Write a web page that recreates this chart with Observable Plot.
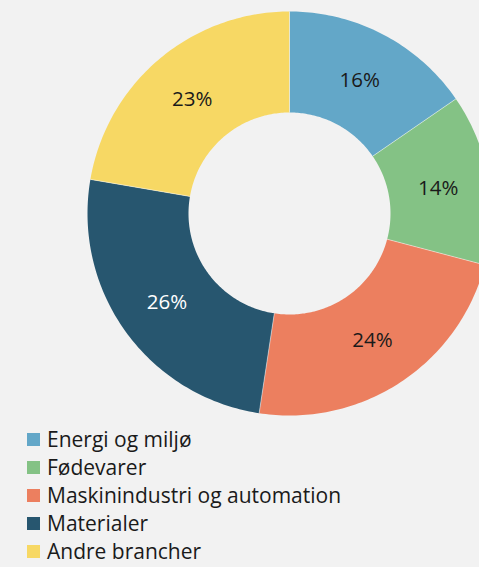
<!DOCTYPE html>
<html>
<head>
<meta charset="utf-8">
<script src="https://cdn.jsdelivr.net/npm/d3@7"></script>
<script src="https://cdn.jsdelivr.net/npm/@observablehq/plot@0.6"></script>
<style>
  html, body { margin: 0; padding: 0; background: #f2f2f2; width: 479px; height: 567px; overflow: hidden; }
  body { font-family: "Open Sans", sans-serif; color: #1a1a1a; }
  #chart svg { display: block; background: #f2f2f2; }
  .legend { padding-left: 27px; }
  .item { display: flex; align-items: center; height: 28px; font-size: 21px; white-space: nowrap; }
  .sw { width: 13px; height: 13px; margin-right: 7px; flex: none; }
</style>
</head>
<body>
<div id="chart"></div>
<div class="legend" id="legend"></div>
<script>
const categories = ["Energi og miljø", "Fødevarer", "Maskinindustri og automation", "Materialer", "Andre brancher"];
const shares = [15.4, 13.7, 23.3, 25.3, 22.3];
const labels = ["16%", "14%", "24%", "26%", "23%"];
const colors = ["#63a7c8", "#84c285", "#ec7f5f", "#27566f", "#f7d864"];
const labelColors = ["#1a1a1a", "#1a1a1a", "#1a1a1a", "#ffffff", "#1a1a1a"];

const W = 479, H = 425;
const cx = 289, cy = 213;
const R0 = 101, R1 = 202, RL = 151;

const arcs = d3.pie().sort(null).value(d => d.share)(
  categories.map((c, i) => ({ category: c, share: shares[i], label: labels[i], lc: labelColors[i] }))
);

const pts = [];
for (const a of arcs) {
  const n = Math.max(8, Math.ceil((a.endAngle - a.startAngle) * 60));
  for (let k = 0; k <= n; k++) {
    const t = a.startAngle + (a.endAngle - a.startAngle) * k / n;
    pts.push({ category: a.data.category, x: R1 * Math.sin(t), y: -R1 * Math.cos(t) });
  }
  for (let k = n; k >= 0; k--) {
    const t = a.startAngle + (a.endAngle - a.startAngle) * k / n;
    pts.push({ category: a.data.category, x: R0 * Math.sin(t), y: -R0 * Math.cos(t) });
  }
}
const seams = arcs.map(a => ({
  x1: R0 * Math.sin(a.startAngle), y1: -R0 * Math.cos(a.startAngle),
  x2: R1 * Math.sin(a.startAngle), y2: -R1 * Math.cos(a.startAngle)
}));
const lab = arcs.map(a => {
  const m = (a.startAngle + a.endAngle) / 2;
  return { x: RL * Math.sin(m), y: -RL * Math.cos(m), label: a.data.label, lc: a.data.lc };
});

const plot = Plot.plot({
  width: W, height: H,
  margin: 0,
  style: { background: "#f2f2f2", fontFamily: "'Open Sans', sans-serif" },
  x: { domain: [-cx, W - cx], range: [0, W], axis: null },
  y: { domain: [-cy, H - cy], range: [0, H], axis: null },
  color: { domain: categories, range: colors },
  marks: [
    Plot.line(pts, { x: "x", y: "y", z: "category", fill: "category", stroke: null, curve: "linear" }),
    Plot.link(seams, { x1: "x1", y1: "y1", x2: "x2", y2: "y2", stroke: "#ffffff", strokeOpacity: 0.6, strokeWidth: 0.8 }),
    Plot.text(lab, { x: "x", y: "y", text: "label", fill: "lc", fontSize: 20.5, textAnchor: "middle", dy: 1 })
  ]
});
document.getElementById("chart").appendChild(plot);

const leg = document.getElementById("legend");
categories.forEach((c, i) => {
  const d = document.createElement("div");
  d.className = "item";
  const s = document.createElement("span");
  s.className = "sw";
  s.style.background = colors[i];
  const t = document.createElement("span");
  t.textContent = c;
  d.appendChild(s); d.appendChild(t);
  leg.appendChild(d);
});
</script>
</body>
</html>
